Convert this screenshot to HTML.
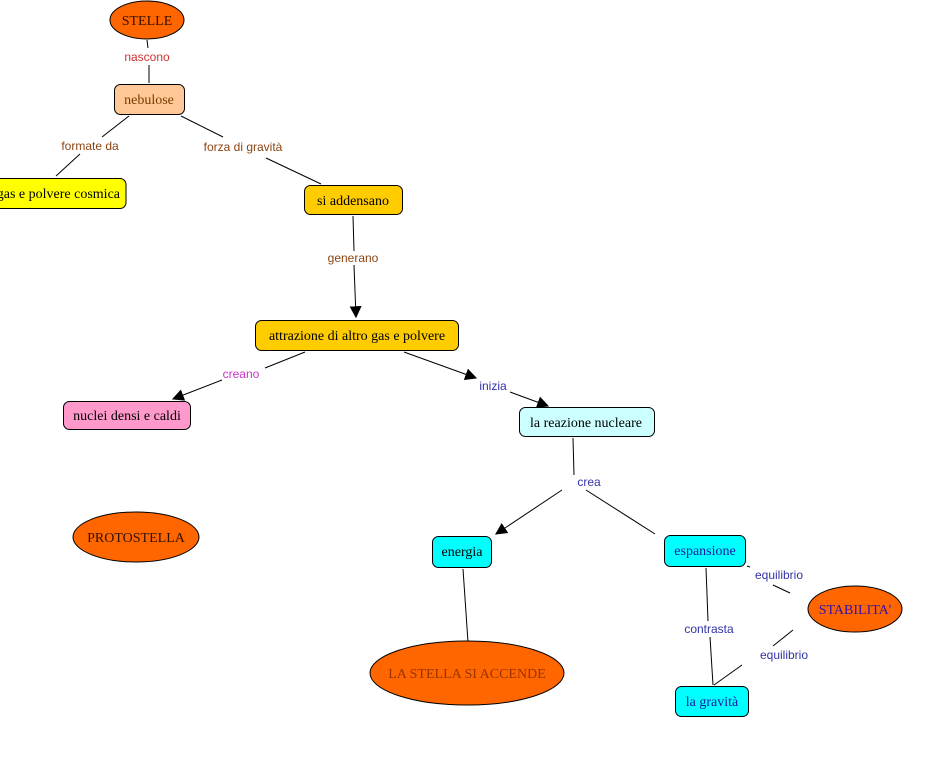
<!DOCTYPE html>
<html><head><meta charset="utf-8"><style>
html,body{margin:0;padding:0;background:#fff;}
svg{display:block;}
.n{font-family:"Liberation Serif",serif;font-size:14px;}
.l{font-family:"Liberation Sans",sans-serif;font-size:12px;}
</style></head><body>
<svg width="946" height="758" viewBox="0 0 946 758" xmlns="http://www.w3.org/2000/svg">
<defs><marker id="a" viewBox="0 0 10 10" refX="9" refY="5" markerWidth="12" markerHeight="12" markerUnits="userSpaceOnUse" orient="auto"><path d="M0,0L10,5L0,10z" fill="#000"/></marker></defs>
<g stroke="#000" stroke-width="1" fill="none">
<line x1="147" y1="40" x2="148" y2="48"/><line x1="149" y1="65" x2="149" y2="83"/>
<line x1="129" y1="116" x2="102" y2="137"/><line x1="80" y1="154" x2="56" y2="176"/>
<line x1="181" y1="116" x2="223" y2="137"/><line x1="266" y1="158" x2="321" y2="184"/>
<line x1="353" y1="216" x2="354" y2="251"/><line x1="354" y1="265" x2="356" y2="317" marker-end="url(#a)"/>
<line x1="305" y1="352" x2="265" y2="368"/><line x1="222" y1="380" x2="173" y2="399" marker-end="url(#a)"/>
<line x1="404" y1="352" x2="476" y2="378" marker-end="url(#a)"/><line x1="510" y1="392" x2="548" y2="406" marker-end="url(#a)"/>
<line x1="573" y1="438" x2="574" y2="475"/><line x1="562" y1="490" x2="496" y2="534" marker-end="url(#a)"/>
<line x1="586" y1="490" x2="655" y2="534"/>
<line x1="463" y1="569" x2="468" y2="642"/>
<line x1="706" y1="568" x2="708" y2="621"/><line x1="710" y1="637" x2="713" y2="685"/>
<line x1="747" y1="566" x2="750" y2="567"/><line x1="773" y1="585" x2="790" y2="593"/>
<line x1="793" y1="630" x2="773" y2="646"/><line x1="742" y1="665" x2="714" y2="685"/>
</g>
<g stroke="#000" stroke-width="1">
<ellipse cx="147" cy="20" rx="37" ry="19" fill="#ff6600"/>
<rect x="114.5" y="84.5" width="70" height="30" rx="6" fill="#ffc896"/>
<rect x="-6" y="178.5" width="132" height="30" rx="6" fill="#ffff00"/>
<rect x="304.5" y="185.5" width="98" height="29" rx="6" fill="#ffcc00"/>
<rect x="255.5" y="320.5" width="203" height="30" rx="6" fill="#ffcc00"/>
<rect x="63.5" y="401.5" width="127" height="28" rx="6" fill="#ff99cc"/>
<ellipse cx="136" cy="537" rx="63" ry="25" fill="#ff6600"/>
<rect x="519.5" y="407.5" width="135" height="29" rx="6" fill="#ccffff"/>
<rect x="432.5" y="536.5" width="59" height="31" rx="6" fill="#00ffff"/>
<rect x="664.5" y="535.5" width="81" height="31" rx="6" fill="#00ffff"/>
<ellipse cx="855" cy="609" rx="47" ry="23" fill="#ff6600"/>
<ellipse cx="467" cy="673" rx="97" ry="32" fill="#ff6600"/>
<rect x="675.5" y="686.5" width="73" height="30" rx="6" fill="#00ffff"/>
</g>
<g class="n" text-anchor="middle">
<text x="147" y="25" fill="#331100">STELLE</text>
<text x="149" y="104" fill="#7a3b00">nebulose</text>
<text x="120" y="198" text-anchor="end" fill="#000">gas e polvere cosmica</text>
<text x="353" y="205" fill="#000">si addensano</text>
<text x="357" y="340" fill="#000">attrazione di altro gas e polvere</text>
<text x="127" y="420" fill="#000">nuclei densi e caldi</text>
<text x="136" y="542" fill="#331100">PROTOSTELLA</text>
<text x="586" y="427" fill="#000">la reazione nucleare</text>
<text x="462" y="556" fill="#000">energia</text>
<text x="705" y="555" fill="#1a1aa0">espansione</text>
<text x="855" y="614" fill="#3311aa">STABILITA'</text>
<text x="467" y="678" fill="#993300">LA STELLA SI ACCENDE</text>
<text x="712" y="706" fill="#1a1aa0">la gravità</text>
</g>
<g class="l" text-anchor="middle">
<text x="147" y="61" fill="#cc3333">nascono</text>
<text x="90" y="150" fill="#8b4513">formate da</text>
<text x="243" y="151" fill="#8b4513">forza di gravità</text>
<text x="353" y="262" fill="#8b4513">generano</text>
<text x="241" y="378" fill="#cc33cc">creano</text>
<text x="493" y="390" fill="#3333aa">inizia</text>
<text x="589" y="486" fill="#3333aa">crea</text>
<text x="779" y="579" fill="#3333aa">equilibrio</text>
<text x="709" y="633" fill="#3333aa">contrasta</text>
<text x="784" y="659" fill="#3333aa">equilibrio</text>
</g>
</svg>
</body></html>
